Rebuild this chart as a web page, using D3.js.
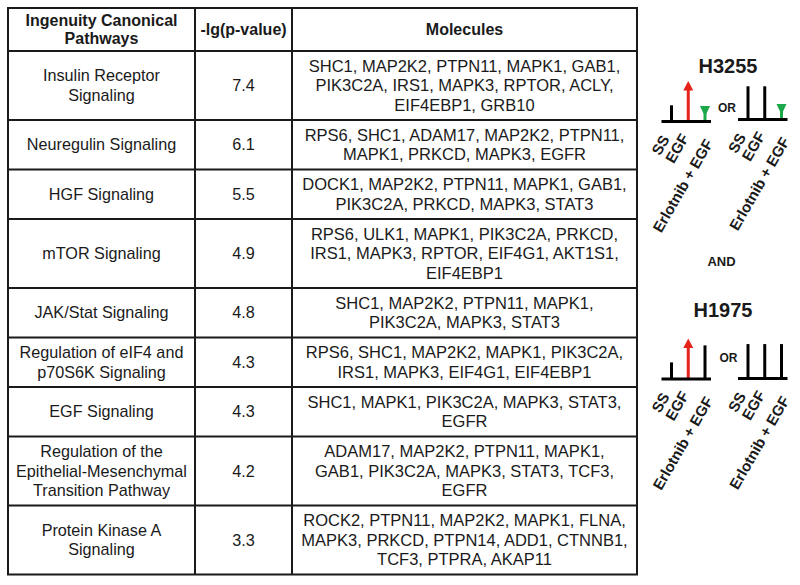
<!DOCTYPE html>
<html>
<head>
<meta charset="utf-8">
<script src="https://cdn.jsdelivr.net/npm/d3@7"></script>
<style>
  html, body { margin: 0; padding: 0; background: #fff; }
  svg { display: block; font-family: "Liberation Sans", Arial, sans-serif; }
</style>
</head>
<body>
<svg id="chart" width="800" height="585"></svg>
<script>
// ---------------- DATA ----------------
const headers = [["Ingenuity Canonical", "Pathways"], ["-lg(p-value)"], ["Molecules"]];

const pathways = [
  ["Insulin Receptor", "Signaling"],
  ["Neuregulin Signaling"],
  ["HGF Signaling"],
  ["mTOR Signaling"],
  ["JAK/Stat Signaling"],
  ["Regulation of eIF4 and", "p70S6K Signaling"],
  ["EGF Signaling"],
  ["Regulation of the", "Epithelial-Mesenchymal", "Transition Pathway"],
  ["Protein Kinase A", "Signaling"]
];

const pValues = [7.4, 6.1, 5.5, 4.9, 4.8, 4.3, 4.3, 4.2, 3.3];

const molecules = [
  ["SHC1, MAP2K2, PTPN11, MAPK1, GAB1,", "PIK3C2A, IRS1, MAPK3, RPTOR, ACLY,", "EIF4EBP1, GRB10"],
  ["RPS6, SHC1, ADAM17, MAP2K2, PTPN11,", "MAPK1, PRKCD, MAPK3, EGFR"],
  ["DOCK1, MAP2K2, PTPN11, MAPK1, GAB1,", "PIK3C2A, PRKCD, MAPK3, STAT3"],
  ["RPS6, ULK1, MAPK1, PIK3C2A, PRKCD,", "IRS1, MAPK3, RPTOR, EIF4G1, AKT1S1,", "EIF4EBP1"],
  ["SHC1, MAP2K2, PTPN11, MAPK1,", "PIK3C2A, MAPK3, STAT3"],
  ["RPS6, SHC1, MAP2K2, MAPK1, PIK3C2A,", "IRS1, MAPK3, EIF4G1, EIF4EBP1"],
  ["SHC1, MAPK1, PIK3C2A, MAPK3, STAT3,", "EGFR"],
  ["ADAM17, MAP2K2, PTPN11, MAPK1,", "GAB1, PIK3C2A, MAPK3, STAT3, TCF3,", "EGFR"],
  ["ROCK2, PTPN11, MAP2K2, MAPK1, FLNA,", "MAPK3, PRKCD, PTPN14, ADD1, CTNNB1,", "TCF3, PTPRA, AKAP11"]
];

// schematic panels (right side)
const cellLines = ["H3255", "H1975"];
const conditions = ["SS", "EGF", "Erlotnib + EGF"];
// relative signal levels per panel (0..1)
const h3255Left  = [0.40, 1.00, 0.38];
const h3255Right = [0.82, 0.82, 0.38];
const h1975Left  = [0.41, 1.00, 0.83];
const h1975Right = [0.85, 0.85, 0.85];
// mark kind per condition
const h3255LeftKinds  = ["bar", "up", "down"];
const h3255RightKinds = ["bar", "bar", "down"];
const h1975LeftKinds  = ["bar", "up", "bar"];
const h1975RightKinds = ["bar", "bar", "bar"];

// ---------------- TABLE ----------------
const svg = d3.select("#chart");
const ink = "#1a1a1a";
const colEdges = [8, 195, 292, 637];
const tableTop = 8, headerH = 43, lineH = 19.5, rowPad = 10.5;

const rows = pathways.map((p, i) => ({
  pathway: p, value: pValues[i], molecules: molecules[i],
  lines: Math.max(p.length, molecules[i].length)
}));
let yCursor = tableTop + headerH;
rows.forEach(r => { r.y0 = yCursor; r.h = r.lines * lineH + rowPad; yCursor += r.h; r.y1 = yCursor; });
const tableBottom = yCursor;

const g = svg.append("g");

// header text
const colCenters = [0,1,2].map(i => (colEdges[i] + colEdges[i+1]) / 2);
const headerCenter = tableTop + headerH / 2;
headers.forEach((lines, c) => {
  const t = g.append("text").attr("text-anchor", "middle").attr("font-weight", "bold")
    .attr("font-size", 16).attr("fill", ink);
  lines.forEach((ln, k) => {
    t.append("tspan").attr("x", colCenters[c])
      .attr("y", headerCenter + (k - (lines.length - 1) / 2) * 18 + 5.7).text(ln);
  });
});

function multiline(sel, x, cy, lines) {
  lines.forEach((ln, k) => {
    sel.append("tspan").attr("x", x)
      .attr("y", cy + (k - (lines.length - 1) / 2) * lineH + 5.7).text(ln);
  });
}

const rowG = g.selectAll("g.row").data(rows).join("g").attr("class", "row");
rowG.each(function(r) {
  const s = d3.select(this);
  const cy = (r.y0 + r.y1) / 2;
  multiline(s.append("text").attr("text-anchor", "middle").attr("font-size", 16.2).attr("fill", ink),
    colCenters[0], cy, r.pathway);
  s.append("text").attr("text-anchor", "middle").attr("font-size", 16.2).attr("fill", ink)
    .attr("x", colCenters[1]).attr("y", cy + 5.7).text(d3.format(".1f")(r.value));
  multiline(s.append("text").attr("text-anchor", "middle").attr("font-size", 16.5).attr("fill", ink),
    colCenters[2], cy, r.molecules);
});

// grid lines
const hLines = [tableTop, tableTop + headerH].concat(rows.map(r => r.y1));
g.selectAll("line.h").data(hLines).join("line")
  .attr("x1", colEdges[0] - 1).attr("x2", colEdges[3] + 1)
  .attr("y1", d => d).attr("y2", d => d)
  .attr("stroke", ink).attr("stroke-width", 2);
g.selectAll("line.v").data(colEdges).join("line")
  .attr("x1", d => d).attr("x2", d => d)
  .attr("y1", tableTop).attr("y2", tableBottom)
  .attr("stroke", ink).attr("stroke-width", 2);

// ---------------- SCHEMATICS ----------------
const red = "#e5231b", green = "#1ba84b";
const xPos = d3.scalePoint().domain(conditions).range([10, 43.5]);
const yLev = d3.scaleLinear().domain([0, 1]).range([0, 40.5]);
// label anchor offsets (end of rotated text) relative to each mark
const labelDx = [-1.5, 1, 8.5], labelDy = [17.5, 16, 21.5];

const panels = [
  { x0: 661.5, base: 121.5, levels: h3255Left,  kinds: h3255LeftKinds },
  { x0: 738,   base: 119.5, levels: h3255Right, kinds: h3255RightKinds },
  { x0: 661.5, base: 379,   levels: h1975Left,  kinds: h1975LeftKinds },
  { x0: 738,   base: 378.5, levels: h1975Right, kinds: h1975RightKinds }
];

const titles = [
  { text: cellLines[0], x: 728, y: 73 },
  { text: cellLines[1], x: 723, y: 317 }
];
svg.selectAll("text.title").data(titles).join("text")
  .attr("x", d => d.x).attr("y", d => d.y).attr("text-anchor", "middle")
  .attr("font-weight", "bold").attr("font-size", 20).attr("fill", ink).text(d => d.text);

svg.append("text").attr("x", 721.5).attr("y", 265.5).attr("text-anchor", "middle")
  .attr("font-weight", "bold").attr("font-size", 13).attr("fill", ink).text("AND");
[{ x: 727, y: 111.5 }, { x: 728.5, y: 362 }].forEach(p =>
  svg.append("text").attr("x", p.x).attr("y", p.y).attr("text-anchor", "middle")
    .attr("font-weight", "bold").attr("font-size", 12).attr("fill", ink).text("OR"));

panels.forEach(p => {
  const pg = svg.append("g").attr("transform", `translate(${p.x0},${p.base})`);
  const marks = conditions.map((c, i) => ({ c, v: p.levels[i], k: p.kinds[i] }));
  marks.forEach(m => {
    const x = xPos(m.c), top = -yLev(m.v);
    if (m.k === "bar") {
      pg.append("line").attr("x1", x).attr("x2", x).attr("y1", 0).attr("y2", top)
        .attr("stroke", "#000").attr("stroke-width", 3);
    } else if (m.k === "up") {
      pg.append("line").attr("x1", x).attr("x2", x).attr("y1", 0).attr("y2", top + 8)
        .attr("stroke", red).attr("stroke-width", 3);
      pg.append("path").attr("d", `M${x - 5},${top + 9.5}L${x + 5},${top + 9.5}L${x},${top}Z`)
        .attr("fill", red);
    } else {
      pg.append("line").attr("x1", x).attr("x2", x).attr("y1", 0).attr("y2", top + 4)
        .attr("stroke", green).attr("stroke-width", 3);
      pg.append("path").attr("d", `M${x - 5},${top}L${x + 5},${top}L${x + 1.5},${top + 7.5}L${x - 1.5},${top + 7.5}Z`)
        .attr("fill", green);
    }
  });
  pg.append("line").attr("x1", 0).attr("x2", 49.5).attr("y1", 0).attr("y2", 0)
    .attr("stroke", "#000").attr("stroke-width", 3);
  pg.selectAll("text").data(conditions).join("text")
    .attr("text-anchor", "end").attr("font-weight", "bold").attr("font-size", 15).attr("fill", ink)
    .attr("transform", (d, i) => `translate(${xPos(d) + labelDx[i]},${labelDy[i]}) rotate(-60)`)
    .text(d => d);
});
</script>
</body>
</html>
